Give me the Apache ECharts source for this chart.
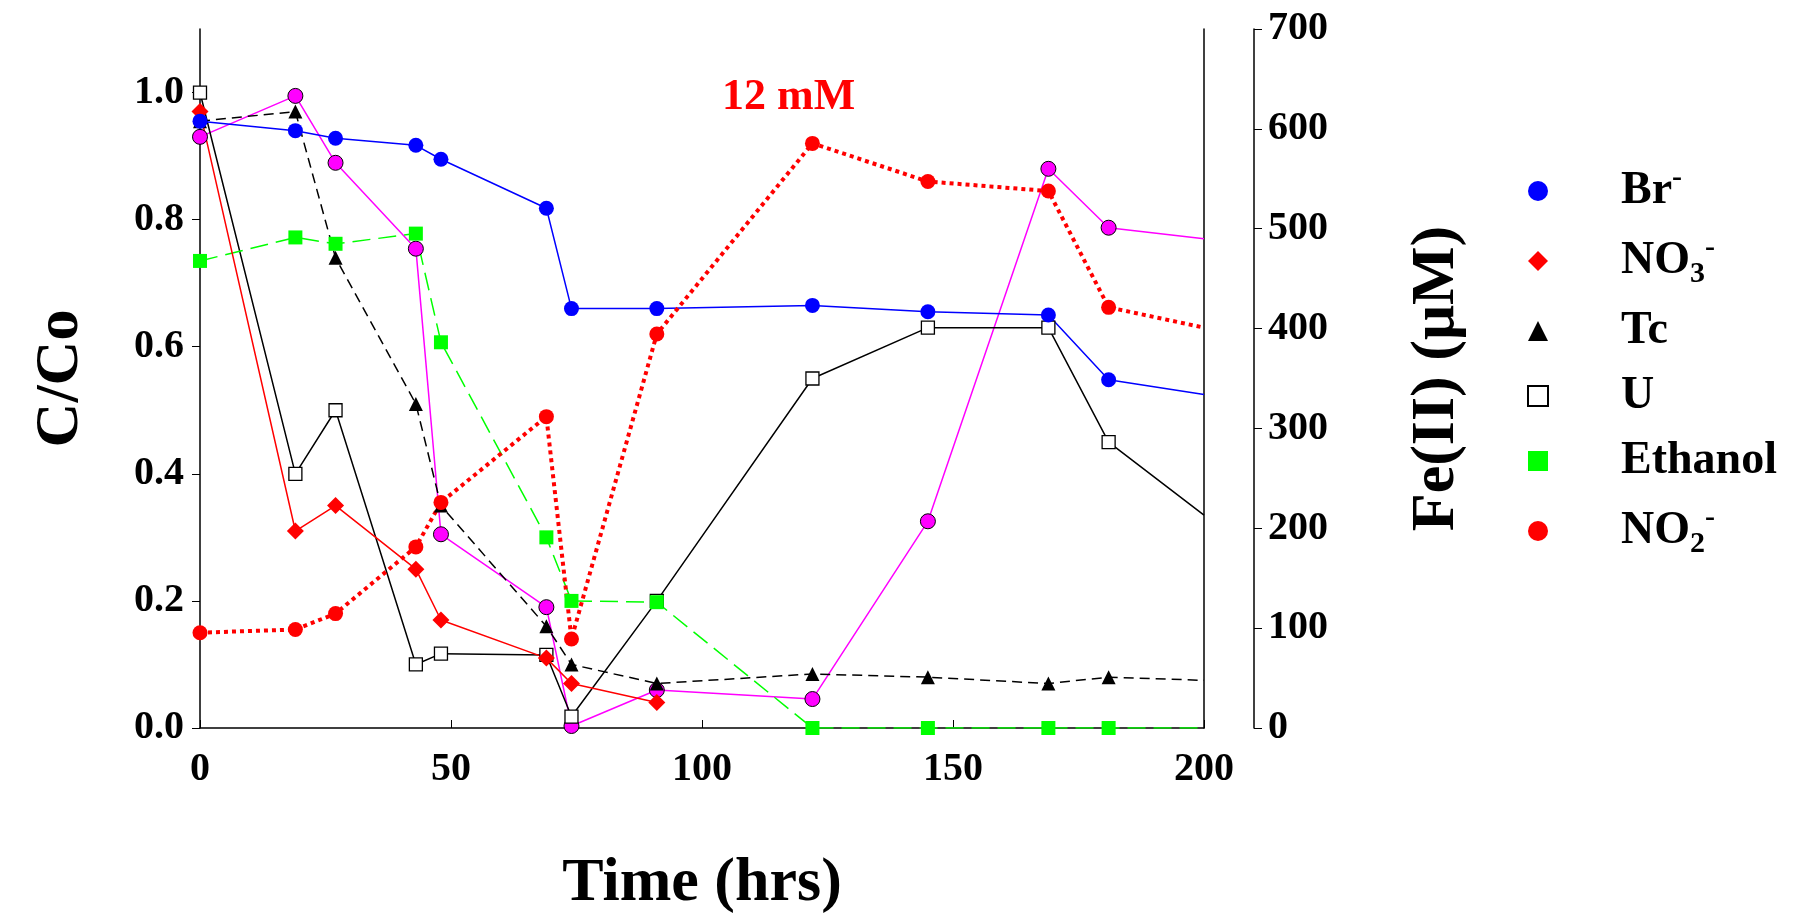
<!DOCTYPE html>
<html>
<head>
<meta charset="utf-8">
<script src="https://cdn.jsdelivr.net/npm/echarts@6/dist/echarts.min.js"></script>
<style>html,body{margin:0;background:#fff}#c{width:1799px;height:920px}</style>
</head>
<body>
<div id="c"></div>
<script>
// sampling times (hrs); last point runs to the axis edge
const times = [0, 19, 27, 43, 48, 69, 74, 91, 122, 145, 169, 181, 200];
const br = [0.955, 0.94, 0.928, 0.917, 0.895, 0.818, 0.66, 0.66, 0.665, 0.655, 0.65, 0.548, 0.525];
const no3 = [0.97, 0.31, 0.35, 0.25, 0.17, 0.11, 0.07, 0.04];
const tc = [0.955, 0.97, 0.74, 0.51, 0.35, 0.16, 0.1, 0.07, 0.085, 0.08, 0.07, 0.08, 0.075];
const uran = [1.0, 0.4, 0.5, 0.1, 0.117, 0.115, 0.018, 0.2, 0.55, 0.63, 0.63, 0.45, 0.335];
const ethanol = [0.735, 0.772, 0.762, 0.778, 0.607, 0.3, 0.2, 0.198, 0, 0, 0, 0, 0];
const no2 = [0.15, 0.155, 0.18, 0.285, 0.355, 0.49, 0.14, 0.62, 0.92, 0.86, 0.845, 0.662, 0.63];
const fe2 = [592, 633, 566, 480, 194, 121, 2, 38, 29, 207, 560, 501, 490];

const font = 'Liberation Serif';
const pts = (vals, axisEnd) => vals.map((v, i) => {
  const d = { value: [times[i], v] };
  if (axisEnd && i === times.length - 1) d.symbol = 'none';
  return d;
});

const chart = echarts.init(document.getElementById('c'));
const mk = (name, vals, color, symbol, size, lineType, yIdx, extra) => Object.assign({
  name, type: 'line', data: pts(vals, true), yAxisIndex: yIdx || 0,
  symbol, symbolSize: size, animation: false,
  lineStyle: { color, width: 1.5, type: lineType },
  itemStyle: { color, borderColor: '#000', borderWidth: 0 }
}, extra || {});

const lab = { fontFamily: font, fontSize: 40, fontWeight: 'bold', color: '#000' };
const ttl = { fontFamily: font, fontSize: 62, fontWeight: 'bold', color: '#000' };
const lg = { fontFamily: font, fontSize: 46, fontWeight: 'bold', color: '#000' };

chart.setOption({
  animation: false,
  textStyle: { fontFamily: font },
  grid: { left: 200, right: 595, top: 29, bottom: 188 },
  legend: {
    orient: 'vertical', left: 1522, top: 158, itemGap: 19, itemWidth: 20, itemHeight: 20,
    data: [
      { name: 'Br', icon: 'circle' }, { name: 'NO3', icon: 'diamond' },
      { name: 'Tc', icon: 'triangle' }, { name: 'U', icon: 'rect' },
      { name: 'Ethanol', icon: 'rect' }, { name: 'NO2', icon: 'circle' }
    ],
    textStyle: Object.assign({}, lg, {
      padding: [0, 0, 0, 68],
      rich: {
        b: lg,
        sup: Object.assign({}, lg, { fontSize: 30, padding: [0, 0, 26, 0] }),
        sub: Object.assign({}, lg, { fontSize: 30, padding: [26, 0, 0, 0] })
      }
    }),
    formatter: n => ({
      Br: '{b|Br}{sup|-}', NO3: '{b|NO}{sub|3}{sup|-}', Tc: '{b|Tc}', U: '{b|U}',
      Ethanol: '{b|Ethanol}', NO2: '{b|NO}{sub|2}{sup|-}'
    })[n]
  },
  xAxis: {
    type: 'value', min: 0, max: 200, interval: 50,
    name: 'Time (hrs)', nameLocation: 'middle', nameGap: 125, nameTextStyle: ttl,
    axisLine: { onZero: false, lineStyle: { color: '#000', width: 1.5 } },
    axisTick: { inside: true, length: 8, lineStyle: { color: '#000' } },
    splitLine: { show: false },
    axisLabel: Object.assign({ margin: 22 }, lab)
  },
  yAxis: [{
    type: 'value', min: 0, max: 1.1, interval: 0.2,
    name: 'C/Co', nameLocation: 'middle', nameGap: 108, nameTextStyle: ttl,
    axisLine: { show: true, lineStyle: { color: '#000', width: 1.5 } },
    axisTick: { length: 8, lineStyle: { color: '#000' } },
    splitLine: { show: false },
    axisLabel: Object.assign({ margin: 16, showMaxLabel: false, formatter: v => v.toFixed(1) }, lab)
  }, {
    type: 'value', min: 0, max: 700, interval: 100, position: 'right', offset: 50,
    name: 'Fe(II) (μM)', nameLocation: 'middle', nameGap: 152, nameRotate: 90, nameTextStyle: ttl,
    axisLine: { show: true, lineStyle: { color: '#000', width: 1.5 } },
    axisTick: { length: 8, lineStyle: { color: '#000' } },
    splitLine: { show: false },
    axisLabel: Object.assign({ margin: 14 }, lab)
  }, {
    type: 'value', min: 0, max: 1.1, position: 'right',
    axisLine: { show: true, lineStyle: { color: '#000', width: 1.5 } },
    axisTick: { show: false }, axisLabel: { show: false }, splitLine: { show: false }
  }],
  graphic: [{
    type: 'text', left: 722, top: 76,
    style: { text: '12 mM', fill: '#ff0000', fontFamily: font, fontSize: 44, fontWeight: 'bold' }
  }],
  series: [
    mk('Fe', fe2, '#ff00ff', 'circle', 15, 'solid', 1, { itemStyle: { color: '#ff00ff', borderColor: '#000', borderWidth: 1 } }),
    mk('U', uran, '#000', 'rect', 13, 'solid', 0, { itemStyle: { color: '#fff', borderColor: '#000', borderWidth: 1.3 } }),
    mk('Tc', tc, '#000', 'triangle', 14, [10, 6]),
    mk('Ethanol', ethanol, '#00ff00', 'rect', 14, [18, 8]),
    mk('NO3', no3, '#ff0000', 'diamond', 17, 'solid', 0, { data: pts(no3, false) }),
    mk('Br', br, '#0000ff', 'circle', 15, 'solid'),
    mk('NO2', no2, '#ff0000', 'circle', 15, 'dotted', 0, { lineStyle: { color: '#ff0000', width: 4, type: 'dotted' } })
  ]
});
</script>
</body>
</html>
